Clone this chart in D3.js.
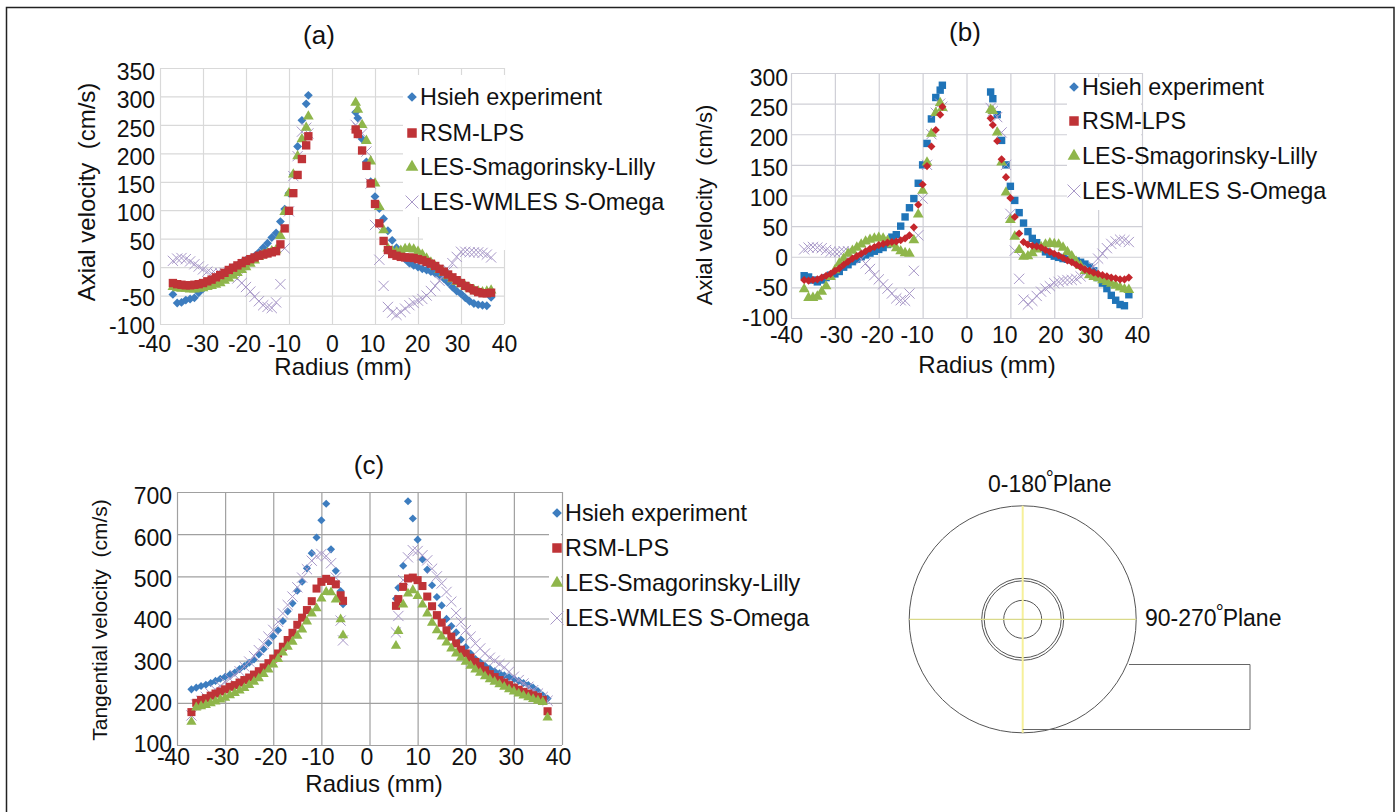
<!DOCTYPE html>
<html lang="en">
<head>
<meta charset="utf-8">
<title>Axial and tangential velocity profiles</title>
<script src="https://cdn.jsdelivr.net/npm/d3@7"></script>
<style>
	body { margin: 0; background: white; }
	svg { display: block; }
	text { font-family: "Liberation Sans", Arial, sans-serif; fill: #111; white-space: pre; }
</style>
</head>
<body>
<script>

// radius stations (mm), shared by every series
var radiusLeft = [-37,-36,-35,-34,-33,-32,-31,-30,-29,-28,-27,-26,-25,-24,-23,-22,-21,-20,-19,-18,-17,-16,-15,-14,-13,-12,-11,-10,-9,-8,-7,-6,-5.5];
var radiusRight = [5.5,6,7,8,9,10,11,12,13,14,15,16,17,18,19,20,21,22,23,24,25,26,27,28,29,30,31,32,33,34,35,36,37];

var seriesNames = ["Hsieh experiment", "RSM-LPS", "LES-Smagorinsky-Lilly", "LES-WMLES S-Omega"];

// panel (a) axial velocity, cm/s
var aHsiehLeft = [-48,-63,-62,-58,-56,-54,-45,-38,-30,-24,-18,-14,-10,-5,-1,3,8,12,15,19,26,34,42,52,60,80,102,130,163,212,258,287,302];
var aRsmLeft = [-28,-30,-31,-32,-32,-31,-30,-28,-25,-22,-18,-14,-10,-5,-1,3,7,11,14,17,20,22,24,26,28,40,68,99,130,162,190,214,230];
var aSmagLeft = [-35,-37,-38,-38,-39,-39,-38,-37,-35,-33,-31,-28,-24,-20,-15,-10,-5,0,6,12,18,22,25,28,30,55,97,130,163,195,225,245,265];
var aWmlesLeft = [11,15,16,14,10,5,1,-4,-8,-11,-12,-11,-10,-9,-14,-20,-28,-35,-43,-52,-60,-67,-70,-72,-62,-30,33,98,160,195,238,245,235];
var aHsiehRight = [272,262,225,185,150,124,103,85,64,47,34,25,14,7,3,0,-3,-5,-8,-11,-14,-20,-27,-35,-42,-47,-54,-60,-64,-66,-67,-68,-53];
var aRsmRight = [242,234,205,178,147,111,77,46,30,23,20,18,17,17,16,14,12,9,6,2,-3,-8,-13,-18,-23,-28,-33,-37,-41,-44,-46,-46,-45];
var aSmagRight = [289,277,250,222,186,147,106,65,33,28,27,29,32,33,31,27,22,15,8,1,-5,-10,-16,-21,-26,-30,-34,-37,-40,-43,-44,-43,-41];
var aWmlesRight = [250,245,235,203,147,74,13,-33,-70,-80,-84,-79,-73,-67,-63,-59,-56,-50,-42,-33,-24,-14,-5,7,18,27,27,26,26,26,25,22,17];

// panel (b) axial velocity, cm/s
var bHsiehLeft = [-31,-33,-38,-41,-38,-34,-30,-28,-24,-17,-13,-8,-4,0,3,6,9,12,15,20,32,36,50,65,80,95,120,150,185,225,260,272,280];
var bRsmLeft = [-38,-39,-38,-37,-34,-31,-28,-23,-19,-13,-8,-3,1,5,9,13,16,19,21,23,24,25,27,30,35,48,85,118,148,180,207,232,245];
var bSmagLeft = [-53,-67,-67,-65,-57,-48,-33,-22,-11,-3,5,10,15,20,25,28,30,31,30,26,20,14,9,6,5,27,69,108,154,201,235,251,243];
var bWmlesLeft = [12,15,16,15,14,11,8,8,8,9,9,8,3,-4,-11,-20,-30,-37,-45,-52,-60,-68,-71,-72,-60,-23,35,95,150,200,235,250,245];
var bHsiehRight = [269,258,232,190,150,115,92,72,55,41,30,23,15,8,4,1,-1,-3,-4,-5,-7,-9,-12,-17,-23,-34,-43,-52,-63,-71,-78,-80,-62];
var bRsmRight = [226,215,189,159,130,96,65,38,24,20,18,17,15,11,8,5,2,-2,-6,-9,-13,-17,-21,-23,-26,-28,-30,-32,-34,-35,-37,-37,-34];
var bSmagRight = [240,238,203,154,105,60,33,11,0,1,6,12,16,20,22,21,20,15,8,1,-8,-15,-23,-30,-33,-35,-38,-41,-44,-47,-50,-53,-54];
var bWmlesRight = [243,238,228,203,150,70,10,-36,-70,-78,-72,-64,-57,-52,-48,-43,-41,-39,-38,-38,-36,-32,-27,-21,-16,-3,5,14,21,25,28,27,24];

// panel (c) tangential velocity, cm/s
var cHsiehLeft = [232,236,240,243,247,252,257,262,267,272,280,287,295,303,315,327,342,358,372,394,417,436,466,487,519,555,592,633,672,564,513,465,434];
var cRsmLeft = [178,200,207,211,217,222,227,232,238,242,248,254,260,267,275,284,294,305,317,333,349,366,385,402,420,441,471,487,494,489,481,455,442];
var cSmagLeft = [155,189,192,195,199,203,208,212,218,223,229,235,242,250,258,268,279,291,304,319,333,345,359,374,393,412,424,447,463,462,445,398,360];
var cWmlesLeft = [170,196,205,214,222,231,240,249,257,266,275,286,298,311,325,340,357,373,392,412,432,452,474,497,517,537,548,553,548,531,497,395,348];
var cHsiehRight = [447,473,525,678,637,587,540,516,479,451,431,399,382,367,350,332,317,304,296,288,281,275,270,265,261,257,252,247,242,236,228,218,210];
var cRsmRight = [430,446,475,495,497,491,477,452,429,408,390,372,357,341,326,317,307,297,287,277,268,261,254,248,242,236,231,226,222,218,214,207,180];
var cSmagRight = [335,370,433,459,467,453,433,412,390,372,357,343,329,317,307,297,288,279,271,263,256,250,244,238,232,227,222,217,213,209,205,202,165];
var cWmlesRight = [367,406,491,545,562,560,550,538,518,500,483,463,440,413,392,372,357,341,329,317,307,300,292,284,274,262,254,246,238,230,222,214,205];

var xTicks = [-40,-30,-20,-10,0,10,20,30,40];
var aTicks = [-100,-50,0,50,100,150,200,250,300,350];
var bTicks = [-100,-50,0,50,100,150,200,250,300];
var cTicks = [100,200,300,400,500,600,700];

var colors = { blue: "#3d7dbf", red: "#bf3337", green: "#8fb64b", purple: "#a898c8" };

var svg = d3.select("body").append("svg")
	.attr("width", 1397)
	.attr("height", 812);

// frame round the whole figure
svg.append("path")
	.attr("d", "M6.5,812V7.5H1394V812")
	.attr("fill", "none")
	.attr("stroke", "#222")
	.attr("stroke-width", 1.5);

var diamond = d3.symbol().type(d3.symbolDiamond2);
var square = d3.symbol().type(d3.symbolSquare);
var triangle = d3.symbol().type(d3.symbolTriangle);
var cross = d3.symbol().type(d3.symbolX);

function drawPanel(p) {
	var x = d3.scaleLinear().domain([-40, 40]).range([p.left, p.right]);
	var y = d3.scaleLinear().domain(p.yDomain).range([p.bottom, p.top]);
	// the tick labels in the figure do not sit exactly on their grid lines
	var yShift = d3.scaleLinear().domain(p.yDomain).range(p.yLabelShift);

	var xAxis = svg.append("g")
		.attr("transform", "translate(0," + p.bottom + ")")
		.call(d3.axisBottom(x).tickValues(xTicks).tickFormat(String).tickSize(p.top - p.bottom));
	var yAxis = svg.append("g")
		.attr("transform", "translate(" + p.left + ",0)")
		.call(d3.axisLeft(y).tickValues(p.yTicks).tickFormat(String).tickSize(p.left - p.right).tickPadding(p.yPad));

	xAxis.selectAll("text")
		.attr("font-size", 23)
		.attr("y", p.xPad)
		.attr("dy", "0.75em")
		.attr("x", function(d, i) { return p.xLabelShift[i]; });
	yAxis.selectAll("text")
		.attr("font-size", 23)
		.attr("dy", "0.38em")
		.attr("y", function(d) { return yShift(d); });
	xAxis.selectAll("line").attr("stroke", p.grid).attr("stroke-width", 1.2);
	yAxis.selectAll("line").attr("stroke", p.grid).attr("stroke-width", 1.2);
	xAxis.select(".domain").remove();
	yAxis.select(".domain").remove();

	// the legend sits on a white box that hides part of the grid
	p.legendBoxes.forEach(function(b) {
		svg.append("rect")
			.attr("x", b[0]).attr("y", b[1])
			.attr("width", b[2]).attr("height", b[3])
			.attr("fill", "white");
	});

	p.series.forEach(function(s) {
		var points = d3.zip(radiusLeft.concat(radiusRight), s.left.concat(s.right));
		svg.append("g").selectAll("path")
			.data(points)
			.enter()
			.append("path")
			.attr("d", s.symbol.size(s.size)())
			.attr("transform", function(d) {
				return "translate(" + x(d[0]) + "," + y(d[1]) + ")";
			})
			.attr("fill", s.stroke ? "none" : s.color)
			.attr("stroke", s.stroke ? s.color : "none")
			.attr("stroke-width", 1);
	});

	// legend
	var order = [
		{ symbol: diamond, color: colors.blue, size: 60 },
		{ symbol: square, color: colors.red, size: 90 },
		{ symbol: triangle, color: colors.green, size: 70 },
		{ symbol: cross, color: colors.purple, size: 110, stroke: true }
	];
	seriesNames.forEach(function(name, i) {
		var ly = p.legendY[i];
		svg.append("path")
			.attr("d", order[i].symbol.size(order[i].size)())
			.attr("transform", "translate(" + (p.legendX - 8) + "," + ly + ")")
			.attr("fill", order[i].stroke ? "none" : order[i].color)
			.attr("stroke", order[i].stroke ? order[i].color : "none");
		svg.append("text")
			.attr("x", p.legendX)
			.attr("y", ly)
			.attr("dy", "0.35em")
			.attr("font-size", 23.4)
			.text(name);
	});

	svg.append("text")
		.attr("x", p.titleX).attr("y", p.titleY)
		.attr("text-anchor", "middle")
		.attr("font-size", 26)
		.text(p.title);
	svg.append("text")
		.attr("x", p.xLabelX).attr("y", p.xLabelY)
		.attr("text-anchor", "middle")
		.attr("font-size", 24)
		.text("Radius (mm)");
	svg.append("text")
		.attr("transform", "translate(" + p.yLabelX + "," + p.yLabelY + ") rotate(-90)")
		.attr("text-anchor", "middle")
		.attr("font-size", p.yLabelSize)
		.text(p.yLabel);
}

drawPanel({
	title: "(a)", titleX: 319, titleY: 44,
	left: 160, right: 504, top: 68, bottom: 324,
	yDomain: [-100, 350], yTicks: aTicks, xPad: 11, yPad: 5,
	xLabelShift: [-6,-1,-2,-5,0,-3,-1,-4,0], yLabelShift: [1, 3],
	grid: "#d9d9d9",
	xLabelX: 343, xLabelY: 375,
	yLabelX: 95, yLabelY: 192, yLabelSize: 24, yLabel: "Axial velocity  (cm/s)",
	legendX: 420, legendY: [97, 133, 167, 202],
	legendBoxes: [[403, 75, 102, 142], [423, 217, 82, 33]],
	series: [
		{ symbol: diamond, color: colors.blue, size: 50, left: aHsiehLeft, right: aHsiehRight },
		{ symbol: cross, color: colors.purple, size: 70, stroke: true, left: aWmlesLeft, right: aWmlesRight },
		{ symbol: triangle, color: colors.green, size: 50, left: aSmagLeft, right: aSmagRight },
		{ symbol: square, color: colors.red, size: 70, left: aRsmLeft, right: aRsmRight }
	]
});

drawPanel({
	title: "(b)", titleX: 965, titleY: 41,
	left: 791, right: 1142, top: 73, bottom: 318,
	yDomain: [-100, 300], yTicks: bTicks, xPad: 8, yPad: 3,
	xLabelShift: [-5,1,-2,-6,0,-6,-4,-8,-5], yLabelShift: [-1, 4],
	grid: "#cfcfd6",
	xLabelX: 987, xLabelY: 373,
	yLabelX: 712, yLabelY: 205, yLabelSize: 22, yLabel: "Axial velocity  (cm/s)",
	legendX: 1082, legendY: [87, 121, 156, 191],
	legendBoxes: [[1067, 77, 74, 133]],
	series: [
		{ symbol: square, color: "#1f74b8", size: 55, left: bHsiehLeft, right: bHsiehRight },
		{ symbol: cross, color: colors.purple, size: 70, stroke: true, left: bWmlesLeft, right: bWmlesRight },
		{ symbol: triangle, color: colors.green, size: 50, left: bSmagLeft, right: bSmagRight },
		{ symbol: diamond, color: "#c4262c", size: 42, left: bRsmLeft, right: bRsmRight }
	]
});

drawPanel({
	title: "(c)", titleX: 369, titleY: 474,
	left: 177, right: 562, top: 492, bottom: 745,
	yDomain: [100, 700], yTicks: cTicks, xPad: 3, yPad: 5,
	xLabelShift: [-4,-3,-3,-4,-3,0,-2,-3,-4], yLabelShift: [-2, 3],
	grid: "#a0a0a0",
	xLabelX: 374, xLabelY: 792,
	yLabelX: 107, yLabelY: 620, yLabelSize: 21, yLabel: "Tangential velocity  (cm/s)",
	legendX: 565, legendY: [513, 548, 583, 618],
	legendBoxes: [[549, 497, 12, 141]],
	series: [
		{ symbol: diamond, color: colors.blue, size: 42, left: cHsiehLeft, right: cHsiehRight },
		{ symbol: cross, color: colors.purple, size: 70, stroke: true, left: cWmlesLeft, right: cWmlesRight },
		{ symbol: square, color: colors.red, size: 65, left: cRsmLeft, right: cRsmRight },
		{ symbol: triangle, color: colors.green, size: 45, left: cSmagLeft, right: cSmagRight }
	]
});

// plane sketch, bottom right
var cx = 1022.7, cy = 619.3;
var sketchRadii = [113.5, 41, 38.5, 19];
svg.append("g").selectAll("circle")
	.data(sketchRadii)
	.enter()
	.append("circle")
	.attr("cx", cx)
	.attr("cy", cy)
	.attr("r", function(d) { return d; })
	.attr("fill", "none")
	.attr("stroke", "#555");
svg.append("line")
	.attr("x1", cx).attr("x2", cx)
	.attr("y1", cy - sketchRadii[0]).attr("y2", cy + sketchRadii[0])
	.attr("stroke", "#f6f09a").attr("stroke-width", 2);
svg.append("line")
	.attr("x1", cx - sketchRadii[0]).attr("x2", cx + sketchRadii[0])
	.attr("y1", cy).attr("y2", cy)
	.attr("stroke", "#d9d98a").attr("stroke-width", 1.2);
svg.append("path")
	.attr("d", "M1129,664.5H1250V729.5H1022.7")
	.attr("fill", "none")
	.attr("stroke", "#666");

function planeLabel(xPos, yPos, a, b) {
	var t = svg.append("text")
		.attr("x", xPos)
		.attr("y", yPos)
		.attr("font-size", 23);
	t.append("tspan").text(a);
	t.append("tspan").attr("dy", -7).attr("font-size", 20).attr("dx", -1).text("\u00b0");
	t.append("tspan").attr("dy", 7).attr("dx", -1).text(b);
}
planeLabel(988, 492, "0-180", "Plane");
planeLabel(1145, 626, "90-270", "Plane");

</script>
</body>
</html>
